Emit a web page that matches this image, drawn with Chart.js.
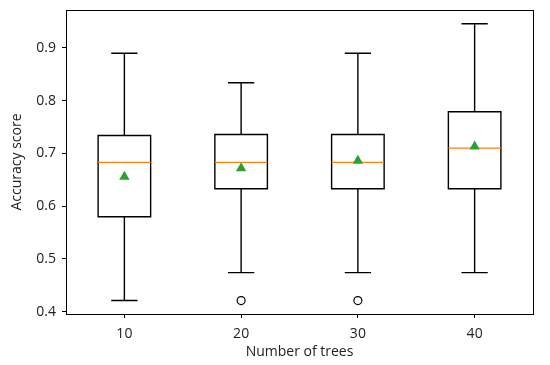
<!DOCTYPE html>
<html>
<head>
<meta charset="utf-8">
<script src="https://cdn.jsdelivr.net/npm/chart.js@4.4.1/dist/chart.umd.min.js"></script>
<style>
  html, body { margin: 0; padding: 0; background: #fff; }
  #wrap { width: 550px; height: 365px; }
</style>
</head>
<body>
<div id="wrap"><canvas id="c" width="550" height="365"></canvas></div>
<script>
// box plot data, one entry per tree count
var treeLabels = ['10', '20', '30', '40']
var whiskerLow = [0.421, 0.474, 0.474, 0.474]
var q1 = [0.580, 0.633, 0.633, 0.633]
var medians = [0.683, 0.683, 0.683, 0.710]
var q3 = [0.734, 0.736, 0.736, 0.779]
var whiskerHigh = [0.890, 0.834, 0.890, 0.946]
var means = [0.656, 0.672, 0.686, 0.713]
var outlierPos = [2, 3]
var outlierVals = [0.421, 0.421]
var yTicks = [0.4, 0.5, 0.6, 0.7, 0.8, 0.9]

var BOX_W = 0.45   // in x units, like matplotlib's default
var font = { family: "'Open Sans', sans-serif", size: 14 }

// boxes, whiskers, caps and medians drawn through the chart scales
var boxPlugin = {
  id: 'boxes',
  beforeDatasetsDraw: function(chart) {
    var ctx = chart.ctx, xs = chart.scales.x, ys = chart.scales.y
    ctx.save()
    for (var i = 0; i < treeLabels.length; i++) {
      var pos = i + 1
      var xl = xs.getPixelForValue(pos - BOX_W / 2)
      var xr = xs.getPixelForValue(pos + BOX_W / 2)
      var xc = xs.getPixelForValue(pos)
      var cl = xs.getPixelForValue(pos - BOX_W / 4)
      var cr = xs.getPixelForValue(pos + BOX_W / 4)
      var yq1 = ys.getPixelForValue(q1[i]), yq3 = ys.getPixelForValue(q3[i])
      var ylo = ys.getPixelForValue(whiskerLow[i]), yhi = ys.getPixelForValue(whiskerHigh[i])
      var ymed = ys.getPixelForValue(medians[i])
      ctx.strokeStyle = '#000'
      ctx.lineWidth = 1.4
      ctx.beginPath()
      ctx.rect(xl, yq3, xr - xl, yq1 - yq3)
      ctx.moveTo(xc, yq1); ctx.lineTo(xc, ylo)
      ctx.moveTo(xc, yq3); ctx.lineTo(xc, yhi)
      ctx.moveTo(cl, ylo); ctx.lineTo(cr, ylo)
      ctx.moveTo(cl, yhi); ctx.lineTo(cr, yhi)
      ctx.stroke()
      ctx.strokeStyle = '#ff7f0e'
      ctx.beginPath()
      ctx.moveTo(xl, ymed); ctx.lineTo(xr, ymed)
      ctx.stroke()
    }
    ctx.restore()
  },
  afterDraw: function(chart) {
    // full frame like matplotlib spines
    var a = chart.chartArea, ctx = chart.ctx
    ctx.save()
    ctx.strokeStyle = '#000'
    ctx.lineWidth = 1
    ctx.strokeRect(Math.round(a.left) + 0.5, Math.round(a.top) + 0.5,
      Math.round(a.right - a.left), Math.round(a.bottom - a.top))
    ctx.restore()
  }
}

new Chart(document.getElementById('c'), {
  type: 'scatter',
  data: {
    datasets: [
      {
        label: 'mean',
        data: means.map(function(v, i) { return { x: i + 1, y: v } }),
        pointStyle: 'triangle',
        pointRadius: 6,
        backgroundColor: '#2ca02c',
        borderColor: '#2ca02c',
        borderWidth: 0
      },
      {
        label: 'outliers',
        data: outlierVals.map(function(v, i) { return { x: outlierPos[i], y: v } }),
        pointStyle: 'circle',
        pointRadius: 4,
        backgroundColor: '#fff',
        borderColor: '#000',
        borderWidth: 1.2
      }
    ]
  },
  options: {
    responsive: false,
    animation: false,
    events: [],
    layout: { padding: { top: 10, right: 17, left: 0, bottom: 0 } },
    plugins: { legend: { display: false }, tooltip: { enabled: false } },
    scales: {
      x: {
        type: 'linear',
        min: 0.5,
        max: 4.5,
        afterBuildTicks: function(s) {
          s.ticks = treeLabels.map(function(l, i) { return { value: i + 1 } })
        },
        afterFit: function(s) { s.height = 51; s.paddingLeft = 0; s.paddingRight = 0 },
        ticks: {
          color: '#222',
          font: font,
          padding: 8,
          maxRotation: 0,
          callback: function(v) { return treeLabels[v - 1] }
        },
        grid: { drawOnChartArea: false, drawTicks: true, tickLength: 4, color: '#000' },
        border: { display: false },
        title: { display: true, text: 'Number of trees', color: '#222', font: font, padding: { top: 0, bottom: 5 } }
      },
      y: {
        type: 'linear',
        min: 0.3955,
        max: 0.972,
        afterBuildTicks: function(s) {
          s.ticks = yTicks.map(function(v) { return { value: v } })
        },
        afterFit: function(s) { s.width = 66; s.paddingTop = 0; s.paddingBottom = 0 },
        ticks: {
          color: '#222',
          font: font,
          padding: 6,
          callback: function(v) { return v.toFixed(1) }
        },
        grid: { drawOnChartArea: false, drawTicks: true, tickLength: 4, color: '#000' },
        border: { display: false },
        title: { display: true, text: 'Accuracy score', color: '#222', font: font, padding: { top: 9, bottom: 0 } }
      }
    }
  },
  plugins: [boxPlugin]
})
</script>
</body>
</html>
